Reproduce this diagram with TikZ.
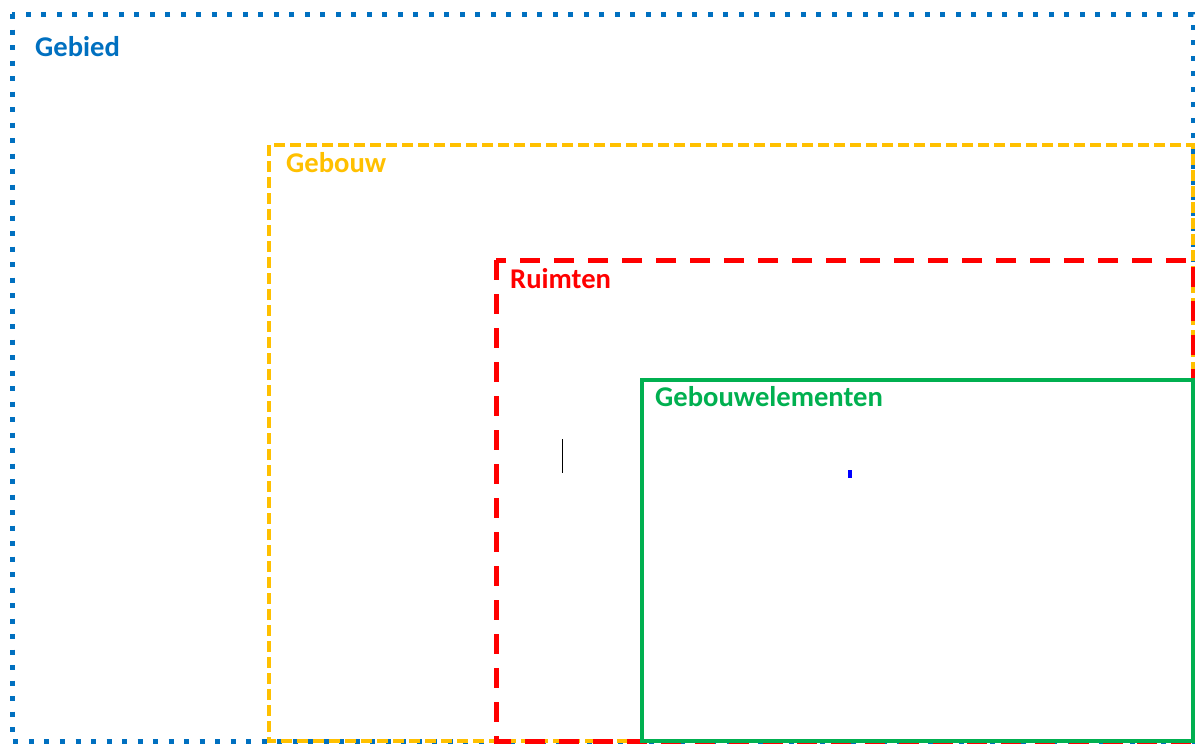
\documentclass[tikz,border=0pt]{standalone}
\usepackage{fontspec}
\setmainfont{Carlito}
\definecolor{gblue}{HTML}{0070C0}
\definecolor{gyellow}{HTML}{FFC000}
\definecolor{gred}{HTML}{FF0000}
\definecolor{ggreen}{HTML}{00B050}
\tikzset{
  lbl/.style={anchor=base west, inner sep=0pt, font=\fontsize{28.6}{31}\selectfont\bfseries},
  bluebox/.style={draw=gblue, line width=5pt, dash pattern=on 5pt off 10.5pt},
  yellowbox/.style={draw=gyellow, line width=4pt, dash pattern=on 11pt off 5pt},
  redbox/.style={draw=gred, line width=5pt, dash pattern=on 20pt off 14pt},
  greenbox/.style={draw=ggreen, line width=4pt},
}
\begin{document}
\begin{tikzpicture}[x=1pt,y=-1pt]
\useasboundingbox (0,0) rectangle (1195,745);
\fill[white] (0,0) rectangle (1195,745);
% containers
\draw[bluebox] (12,14) rectangle (1193,741);
\draw[yellowbox] (269,145) rectangle (1193,741);
\draw[redbox] (496,260) rectangle (1193,741);
\draw[greenbox] (642,380) rectangle (1193,741);
% labels
\node[lbl, text=gblue] (gebied) at (35,56.5) {Gebied};
\node[lbl, text=gyellow] (gebouw) at (286,172.5) {Gebouw};
\node[lbl, text=gred] (ruimten) at (510,288.5) {Ruimten};
\node[lbl, text=ggreen] (elementen) at (655,406.5) {Gebouwelementen};
% small marks
\draw[black, line width=1.2pt] (562.5,439) -- (562.5,473);
\fill[blue] (848,470) rectangle (851.5,478);
\end{tikzpicture}
\end{document}
